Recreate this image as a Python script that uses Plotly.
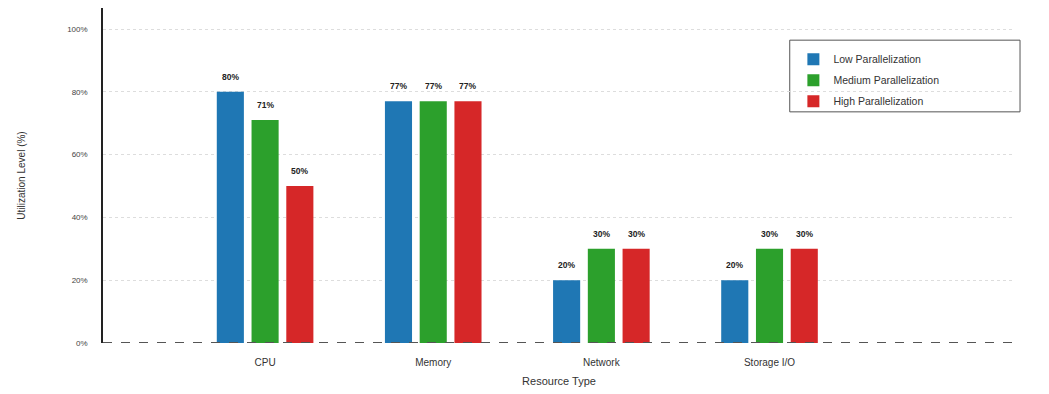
import plotly.graph_objects as go

resources = ["CPU", "Memory", "Network", "Storage I/O"]
low_par = [80, 77, 20, 20]
medium_par = [71, 77, 30, 30]
high_par = [50, 77, 30, 30]
series_names = ["Low Parallelization", "Medium Parallelization", "High Parallelization"]
series_colors = ["#1f77b4", "#2ca02c", "#d62728"]
y_ticks = [0, 20, 40, 60, 80, 100]

BARGAP = 0.38
n_series = 3
slot = (1 - BARGAP) / n_series

fig = go.Figure()
for i, (name, vals, col) in enumerate(zip(series_names, [low_par, medium_par, high_par], series_colors)):
    xs = list(range(len(resources)))
    fig.add_trace(go.Bar(
        x=xs, y=vals, name=name, legendgroup=name,
        marker=dict(color=col, line=dict(width=0)),
    ))
    # value labels above each bar
    off = (i - (n_series - 1) / 2) * slot
    for xv, v in zip(xs, vals):
        fig.add_annotation(
            x=xv + off, y=v, text=f"<b>{v}%</b>", showarrow=False,
            yanchor="bottom", yshift=8,
            font=dict(size=8.5, color="#222222", family="Liberation Sans"),
        )

fig.update_layout(
    width=1049, height=394,
    margin=dict(l=103, r=34, t=8, b=51),
    plot_bgcolor="white", paper_bgcolor="white",
    font=dict(family="Liberation Sans, Arial, sans-serif", color="#333333"),
    barmode="group", bargap=BARGAP, bargroupgap=0.22,
    showlegend=True,
    legend=dict(
        x=0.757, y=0.89, xanchor="left", yanchor="top",
        borderwidth=0, bgcolor="rgba(0,0,0,0)",
        font=dict(size=10.5, color="#333333"),
        itemwidth=30, tracegroupgap=2,
    ),
    xaxis=dict(
        tickmode="array", tickvals=list(range(len(resources))), ticktext=resources,
        range=[-0.964, 4.46], showgrid=False, showline=False, zeroline=False,
        ticks="", tickfont=dict(size=10, color="#333333"), ticklabelstandoff=12,
        title=dict(text="Resource Type", font=dict(size=11, color="#333333"), standoff=10),
    ),
    yaxis=dict(
        range=[0, 106.7], tickvals=y_ticks, ticktext=[f"{t}%" for t in y_ticks],
        showgrid=True, gridcolor="#dddddd", griddash="dot", gridwidth=1,
        zeroline=False, showline=True, linecolor="#222222", linewidth=1.5,
        ticks="", tickfont=dict(size=8, color="#444444"), ticklabelstandoff=12,
        title=dict(text="Utilization Level (%)", font=dict(size=10, color="#333333"), standoff=40),
    ),
)

# x baseline
fig.add_shape(type="line", xref="paper", yref="y", x0=0, x1=1, y0=0, y1=0,
              line=dict(color="#555555", width=2, dash="dash"))

# legend frame
fig.add_shape(type="rect", xref="paper", yref="paper", x0=0.753, x1=1.0055, y0=0.690, y1=0.904,
              line=dict(color="#555555", width=1), fillcolor="white", layer="below")

fig.write_html("out.html")
